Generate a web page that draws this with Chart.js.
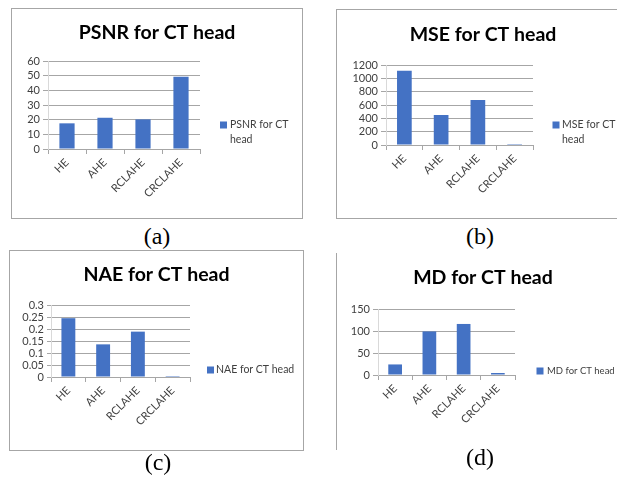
<!DOCTYPE html>
<html>
<head>
<meta charset="utf-8">
<script src="https://cdn.jsdelivr.net/npm/chart.js@4"></script>
<style>
  html, body { margin: 0; padding: 0; background: #fff; }
  body { width: 617px; height: 483px; position: relative; overflow: hidden; }
  .frame { position: absolute; box-sizing: border-box; border: 1px solid #a6a6a6; }
  .frame.left-only { border: none; border-left: 1px solid #a6a6a6; }
  canvas { position: absolute; }
  .cap { position: absolute; width: 60px; text-align: center; font-family: "Liberation Serif", "Times New Roman", serif; font-size: 24px; line-height: 24px; color: #000; }
</style>
</head>
<body>
<div class="frame" style="left:11px;top:8px;width:292px;height:211px"></div>
<div class="frame" style="left:336px;top:9px;width:300px;height:210px"></div>
<div class="frame" style="left:9px;top:250px;width:295px;height:201px"></div>
<div class="frame left-only" style="left:336px;top:253px;width:2px;height:197px"></div>

<canvas id="psnr"></canvas>
<canvas id="mse"></canvas>
<canvas id="nae"></canvas>
<canvas id="md"></canvas>

<div class="cap" style="left:127px;top:224px">(a)</div>
<div class="cap" style="left:450px;top:224px">(b)</div>
<div class="cap" style="left:128px;top:450px">(c)</div>
<div class="cap" style="left:450px;top:445px">(d)</div>

<script>
// Enhancement methods compared on the CT head image
const categories = ['HE', 'AHE', 'RCLAHE', 'CRCLAHE'];

const psnrValues = [17.5, 21.3, 20.2, 49.3];
const mseValues  = [1115, 450, 675, 1];
const naeValues  = [0.245, 0.136, 0.189, 0.004];
const mdValues   = [24, 99, 116, 4.5];

// Value-axis tick labels of each chart
const psnrTicks = [0, 10, 20, 30, 40, 50, 60];
const mseTicks  = [0, 200, 400, 600, 800, 1000, 1200];
const naeTicks  = [0, 0.05, 0.1, 0.15, 0.2, 0.25, 0.3];
const mdTicks   = [0, 50, 100, 150];

const BAR_BLUE = '#4472C4';
const GRID = '#a6a6a6';
const AXIS_V = '#d9d9d9';
const TEXT = '#404040';
const FONT = 'Lato';

// Legend drawn to the right of the plot, wrapping its label like an office chart
const sideLegend = {
  id: 'sideLegend',
  afterDraw(chart, args, opts) {
    if (!opts || opts.x === undefined) return;
    const ctx = chart.ctx;
    const ds = chart.data.datasets[0];
    ctx.save();
    ctx.font = opts.size + 'px ' + FONT;
    const words = ds.label.split(' ');
    const lines = [];
    let cur = '';
    for (const w of words) {
      const test = cur ? cur + ' ' + w : w;
      if (cur && ctx.measureText(test).width > opts.maxWidth) { lines.push(cur); cur = w; }
      else cur = test;
    }
    lines.push(cur);
    ctx.fillStyle = ds.backgroundColor;
    ctx.fillRect(opts.x - 3.5, opts.y - 3.5, 7, 7);
    ctx.fillStyle = opts.color;
    ctx.textAlign = 'left';
    ctx.textBaseline = 'middle';
    lines.forEach((l, i) => ctx.fillText(l, opts.textX, opts.y + i * opts.lineHeight));
    ctx.restore();
  }
};
Chart.register(sideLegend);

// Build one panel; geometry given in page pixels
function makePanel(id, title, label, values, ticks, geo) {
  const [cl, ct, cw, ch] = geo.canvas;
  const [al, at, ar, ab] = geo.area;
  const canvas = document.getElementById(id);
  canvas.width = cw; canvas.height = ch;
  canvas.style.left = cl + 'px'; canvas.style.top = ct + 'px';
  canvas.style.width = cw + 'px'; canvas.style.height = ch + 'px';

  const titleSize = 19.5;
  const titleH = titleSize * 1.2;
  const titleTop = (geo.titleY - ct) - titleH / 2;
  const titleBottom = (at - ct) - titleTop - titleH;

  return new Chart(canvas, {
    type: 'bar',
    data: {
      labels: categories,
      datasets: [{
        label: label,
        data: values,
        backgroundColor: BAR_BLUE,
        categoryPercentage: 0.5,
        barPercentage: 0.8
      }]
    },
    options: {
      responsive: false,
      animation: false,
      devicePixelRatio: 1,
      events: [],
      layout: { padding: 0 },
      plugins: {
        legend: { display: false },
        tooltip: { enabled: false },
        title: {
          display: true,
          text: title,
          color: '#000',
          font: { family: FONT, size: titleSize, weight: 'bold', lineHeight: 1.2 },
          padding: { top: titleTop, bottom: titleBottom }
        },
        sideLegend: {
          x: geo.legend.x - cl,
          y: geo.legend.y - ct,
          textX: geo.legend.textX - cl,
          lineHeight: 15,
          maxWidth: geo.legend.maxWidth,
          size: geo.legend.size,
          color: TEXT
        }
      },
      scales: {
        x: {
          grid: { offset: true, drawOnChartArea: false, drawTicks: true, tickLength: 5, color: GRID },
          border: { color: GRID },
          ticks: {
            minRotation: 45, maxRotation: 45, autoSkip: false,
            font: { family: FONT, size: 11 }, color: TEXT, padding: 2
          },
          afterFit(s) { s.height = (ct + ch) - ab; }
        },
        y: {
          min: ticks[0],
          max: ticks[ticks.length - 1],
          ticks: {
            stepSize: ticks[1] - ticks[0],
            autoSkip: false,
            font: { family: FONT, size: 11 }, color: TEXT, padding: 3,
            callback: v => String(Number(v.toFixed(4)))
          },
          grid: { color: GRID, tickLength: geo.tickLen || 5 },
          border: { color: AXIS_V },
          afterFit(s) { s.width = al - cl; }
        },
        // empty band on the right that holds the legend
        legendBand: {
          type: 'linear',
          position: 'right',
          display: true,
          grid: { display: false },
          border: { display: false },
          ticks: { display: false },
          afterFit(s) { s.width = (cl + cw) - ar; }
        }
      }
    }
  });
}

makePanel('psnr', 'PSNR for CT head', 'PSNR for CT head', psnrValues, psnrTicks, {
  canvas: [12, 9, 290, 209], area: [48, 61, 200, 149], titleY: 33,
  legend: { x: 223.5, y: 125, textX: 230, maxWidth: 64, size: 10.5 }
});
makePanel('mse', 'MSE for CT head', 'MSE for CT head', mseValues, mseTicks, {
  canvas: [337, 10, 292, 208], area: [386, 65, 533, 145], titleY: 35,
  legend: { x: 556, y: 125, textX: 562, maxWidth: 58, size: 10.5 }
});
makePanel('nae', 'NAE for CT head', 'NAE for CT head', naeValues, naeTicks, {
  canvas: [10, 251, 293, 199], area: [51, 305, 190, 377], titleY: 275, tickLen: 4,
  legend: { x: 210.5, y: 370, textX: 216, maxWidth: 200, size: 10.5 }
});
makePanel('md', 'MD for CT head', 'MD for CT head', mdValues, mdTicks, {
  canvas: [337, 251, 292, 199], area: [378, 309, 515, 375], titleY: 278,
  legend: { x: 540, y: 371, textX: 547, maxWidth: 200, size: 9.5 }
});
</script>
</body>
</html>
